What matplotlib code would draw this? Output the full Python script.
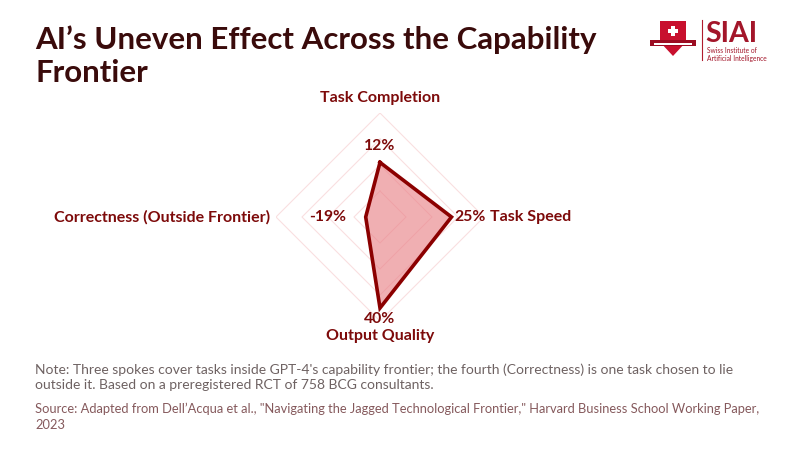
import numpy as np
import matplotlib
matplotlib.use("Agg")
from matplotlib import pyplot as plt
from matplotlib.patches import Polygon, Rectangle

plt.rcParams['font.family'] = ['Lato', 'DejaVu Sans']

# data
categories = ['Task Completion', 'Task Speed', 'Output Quality', 'Correctness (Outside Frontier)']
values = [12, 25, 40, -19]
value_labels = ['12%', '25%', '40%', '-19%']
grid_vals = [-10, 10, 30, 50]
r_min, r_max = -30, 50

title = 'AI\u2019s Uneven Effect Across the Capability\nFrontier'
note = ("Note: Three spokes cover tasks inside GPT-4's capability frontier; the fourth (Correctness) is one task chosen to lie\n"
        "outside it. Based on a preregistered RCT of 758 BCG consultants.")
source = ("Source: Adapted from Dell\u2019Acqua et al., \"Navigating the Jagged Technological Frontier,\" Harvard Business School Working Paper,\n"
          "2023")

DARK = '#3a0b0b'
RED = '#7d0a0a'
LINE = '#8b0000'
FILL = '#e87e84'
GRID = '#f9dfe0'

fig = plt.figure(figsize=(8, 4.5), dpi=100)
fig.patch.set_facecolor('white')

cx, cy, rad = 380, 217, 104
ax = fig.add_axes([(cx - rad) / 800, (450 - cy - rad) / 450, 2 * rad / 800, 2 * rad / 450],
                  projection='polar')
ax.set_theta_offset(np.pi / 2)
ax.set_theta_direction(-1)
ax.set_ylim(r_min, r_max)
ax.grid(False)
ax.set_xticks([])
ax.set_yticks([])
ax.spines['polar'].set_visible(False)
ax.patch.set_alpha(0)

n = len(categories)
angles = np.arange(n) * 2 * np.pi / n
ang_c = np.append(angles, angles[0])

# diamond grid
for g in grid_vals:
    ax.plot(ang_c, [g] * (n + 1), color=GRID, lw=0.8, zorder=1)

vals_c = np.append(values, values[0])
ax.fill(ang_c, vals_c, color=FILL, alpha=0.62, zorder=2, lw=0)
ax.plot(ang_c, vals_c, color=LINE, lw=2.6, zorder=3, solid_joinstyle='miter')

# value labels
offsets = [(0, 7, 'center', 'bottom'), (2, 0, 'left', 'center'),
           (0, -3, 'center', 'top'), (-14, 0, 'right', 'center')]
for a, v, lab, (dx, dy, ha, va) in zip(angles, values, value_labels, offsets):
    ax.annotate(lab, (a, v), xytext=(dx, dy), textcoords='offset points',
                ha=ha, va=va, fontsize=11.3, fontweight='bold', color=RED, zorder=4)

# category labels
lab_pos = [(0, 61.5, 'center', 'center'), (np.pi / 2, 54.5, 'left', 'center'),
           (np.pi, 61.5, 'center', 'center'), (3 * np.pi / 2, 54.5, 'right', 'center')]
for cat, (a, r, ha, va) in zip(categories, lab_pos):
    ax.text(a, r, cat, ha=ha, va=va, fontsize=11.5, fontweight='bold', color=RED,
            clip_on=False)

# title and notes
fig.text(35 / 800, 1 - 25 / 450, title, ha='left', va='top', fontsize=22.5,
         fontweight='bold', color=DARK, linespacing=1.22)
fig.text(35 / 800, 1 - 363 / 450, note, ha='left', va='top', fontsize=10,
         color='#6e6262', linespacing=1.3)
fig.text(35 / 800, 1 - 403 / 450, source, ha='left', va='top', fontsize=9.3,
         color='#85595c', linespacing=1.35)

# logo
def fx(x):
    return x / 800


def fy(y):
    return 1 - y / 450


tf = fig.transFigure
fig.patches.append(Polygon([(fx(660), fy(21)), (fx(686), fy(21)), (fx(686), fy(42)),
                            (fx(673), fy(56)), (fx(660), fy(42))], closed=True,
                           transform=tf, facecolor='#c8102e', edgecolor='none'))
fig.patches.append(Rectangle((fx(668), fy(33)), fx(10), 4 / 450, transform=tf,
                             facecolor='white', edgecolor='none'))
fig.patches.append(Rectangle((fx(671), fy(36)), fx(4), 10 / 450, transform=tf,
                             facecolor='white', edgecolor='none'))
fig.patches.append(Rectangle((fx(650), fy(46)), fx(46), 6 / 450, transform=tf,
                             facecolor='#9b0c22', edgecolor='none'))
fig.patches.append(Rectangle((fx(654), fy(44.5)), fx(38), 1.5 / 450, transform=tf,
                             facecolor='white', edgecolor='none'))
fig.add_artist(plt.Line2D([fx(702), fx(702)], [fy(20), fy(60)], color='#b01c2e', lw=0.8,
                          transform=tf))
fig.text(fx(705), fy(46.5), 'SIAI', ha='left', va='bottom', fontsize=20.5,
         fontweight='bold', color='#a3162a')
fig.text(fx(707), fy(47), 'Swiss Institute of\nArtificial Intelligence', ha='left', va='top',
         fontsize=4.8, color='#a3162a', linespacing=1.1)

fig.savefig('out.png', dpi=100, facecolor='white')
